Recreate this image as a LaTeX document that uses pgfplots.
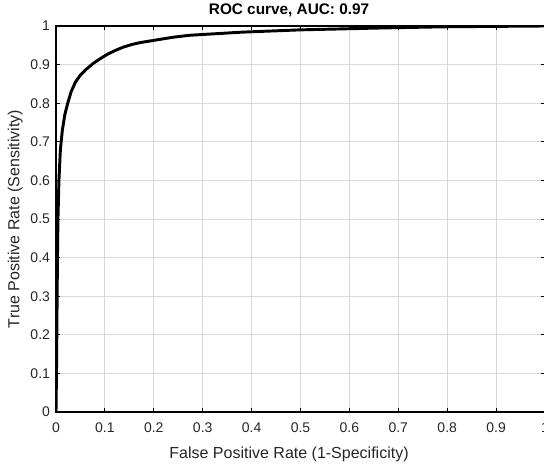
\documentclass[border=0pt]{standalone}
\usepackage{pgfplots}
\pgfplotsset{compat=1.18}
\usepackage{fontspec}
\setmainfont{Liberation Sans}
\begin{document}
\begin{tikzpicture}
\begin{axis}[
  scale only axis,
  width=366.75pt, height=289.5pt,
  xmin=0, xmax=1, ymin=0, ymax=1,
  xtick={0,0.1,...,1.0}, ytick={0,0.1,...,1.0},
  xticklabels={0,0.1,0.2,0.3,0.4,0.5,0.6,0.7,0.8,0.9,1},
  yticklabels={0,0.1,0.2,0.3,0.4,0.5,0.6,0.7,0.8,0.9,1},
  tick align=inside,
  major tick length=3pt,
  tick style={black, line width=0.6pt},
  grid=major,
  major grid style={gray!30, line width=0.6pt},
  axis line style={black, line width=1.2pt},
  /pgf/number format/assume math mode=true,
  tick label style={font=\fontsize{10.5}{12}\selectfont, text=black!85},
  xticklabel style={yshift=-4.5pt},
  yticklabel style={xshift=-1pt},
  title={\bfseries ROC curve, AUC: 0.97},
  title style={font=\fontsize{11.5}{13}\selectfont, at={(0.5,1)}, anchor=south, yshift=-3pt, xshift=-8.6pt},
  xlabel={False Positive Rate (1-Specificity)},
  ylabel={True Positive Rate (Sensitivity)},
  label style={font=\fontsize{12}{14}\selectfont, text=black!85},
  xlabel style={xshift=-8.6pt, yshift=-4pt},
  ylabel style={yshift=-1pt},
]
\addplot[black, line width=2.2pt, line join=round] coordinates {
(0,0) (0.001,0.1) (0.002,0.25) (0.003,0.4) (0.004,0.5) (0.006,0.6)
(0.009,0.68) (0.013,0.73) (0.018,0.77) (0.024,0.80) (0.031,0.83)
(0.040,0.855) (0.050,0.873) (0.062,0.888) (0.076,0.903) (0.090,0.915)
(0.104,0.926) (0.120,0.936) (0.137,0.945) (0.155,0.952) (0.172,0.957)
(0.206,0.964) (0.24,0.971) (0.274,0.976) (0.30,0.978)
(0.38,0.984) (0.5,0.99) (0.67,0.995) (0.8,0.998) (0.9,0.999) (1,1)
};
\end{axis}
\pgfresetboundingbox
\path[use as bounding box] ([xshift=-42pt,yshift=-40.5pt]current axis.south west) rectangle ([xshift=-0.75pt,yshift=19.5pt]current axis.north east);
\end{tikzpicture}
\end{document}
